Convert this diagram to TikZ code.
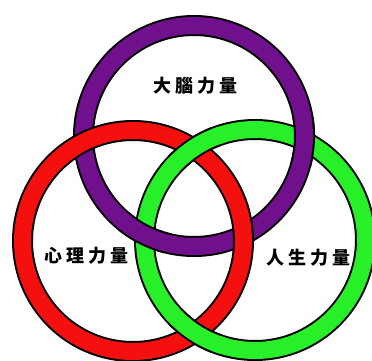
\documentclass[tikz,border=0pt]{standalone}
\usepackage{fontspec}
\newfontfamily\cjk{Noto Sans CJK TC}
\definecolor{ringP}{RGB}{112,16,140}
\definecolor{ringR}{RGB}{245,16,16}
\definecolor{ringG}{RGB}{40,240,40}
\tikzset{
  ringout/.style={draw=black,line width=21pt},
  ringin/.style={line width=17pt},
  lbl/.style={font=\cjk\bfseries\fontsize{18}{18}\selectfont,inner sep=0pt}
}
\newcommand\myring[2]{%
  \draw[ringout] (#1) circle[radius=110.5];
  \draw[ringin,draw=#2] (#1) circle[radius=110.5];}
\newcommand\myover[5]{% center, colour, crossing A, crossing B
  \begin{scope}
  \clip (#3) circle[radius=27] (#4) circle[radius=27];
  \draw[ringout] (#1) circle[radius=110.5];
  \end{scope}
  \begin{scope}
  \clip (#3) circle[radius=33] (#4) circle[radius=33];
  \draw[ringin,draw=#2] (#1) circle[radius=110.5];
  \end{scope}}
\begin{document}
\begin{tikzpicture}[x=1pt,y=-1pt]
\fill[white] (0,0) rectangle (372,360);
\clip (0,0) rectangle (372,360);
\coordinate (P) at (194,136);
\coordinate (R) at (133,241);
\coordinate (G) at (255,240);
\coordinate (PG1) at (144.7,234.3);
\coordinate (PG2) at (304.3,141.7);
\coordinate (RG1) at (194,148.4);
\coordinate (RG2) at (194,332.6);
\myring{P}{ringP}
\myring{G}{ringG}
\myring{R}{ringR}
% purple over green
\myover{P}{ringP}{PG1}{PG2}{}
% green over red
\myover{G}{ringG}{RG1}{RG2}{}
\node[lbl] (tP) at (195.5,86) {大\hspace{4pt}腦\hspace{4pt}力\hspace{4pt}量};
\node[lbl] (tR) at (86.5,256) {心\hspace{4pt}理\hspace{4pt}力\hspace{4pt}量};
\node[lbl] (tG) at (308.5,258) {人\hspace{4pt}生\hspace{4pt}力\hspace{4pt}量};
\end{tikzpicture}
\end{document}
